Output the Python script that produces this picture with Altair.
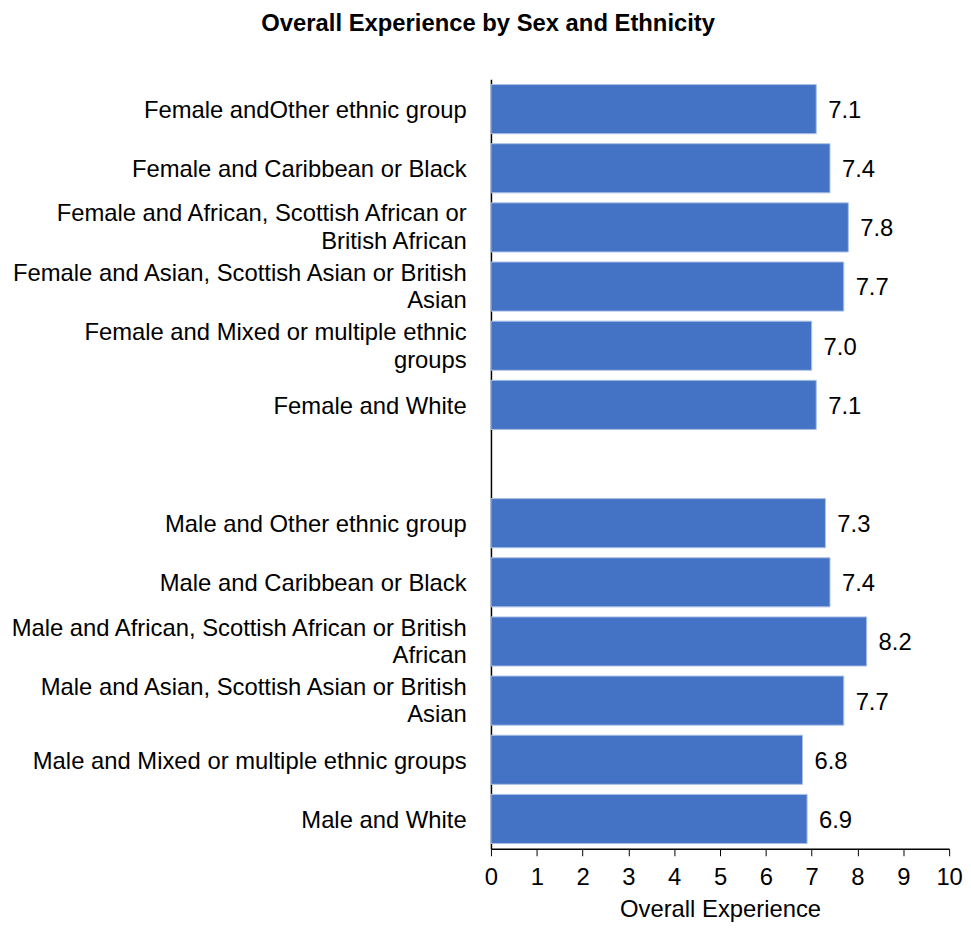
import altair as alt
import pandas as pd

# "|" marks where the long labels wrap onto a second line
groups = [
    "Female andOther ethnic group",
    "Female and Caribbean or Black",
    "Female and African, Scottish African or|British African",
    "Female and Asian, Scottish Asian or British|Asian",
    "Female and Mixed or multiple ethnic|groups",
    "Female and White",
    "Male and Other ethnic group",
    "Male and Caribbean or Black",
    "Male and African, Scottish African or British|African",
    "Male and Asian, Scottish Asian or British|Asian",
    "Male and Mixed or multiple ethnic groups",
    "Male and White",
]
scores = [7.1, 7.4, 7.8, 7.7, 7.0, 7.1, 7.3, 7.4, 8.2, 7.7, 6.8, 6.9]

# empty slot between the female and male blocks
order = groups[:6] + [" "] + groups[6:]

source = pd.DataFrame({"group": groups, "score": scores})

FONT = "Liberation Sans"

y_enc = alt.Y(
    "group:N",
    sort=order,
    scale=alt.Scale(domain=order, paddingInner=0.17, paddingOuter=0.09),
    axis=alt.Axis(
        title=None,
        ticks=False,
        labelExpr="split(datum.label, '|')",
        labelOffset={"expr": "indexof(datum.label, '|') >= 0 ? -13 : 2"},
        labelFontSize=24,
        labelFont=FONT,
        labelColor="black",
        labelPadding=25,
        labelLineHeight=28,
        labelLimit=600,
        domainColor="black",
        domainWidth=1.5,
    ),
)

x_enc = alt.X(
    "score:Q",
    scale=alt.Scale(domain=[0, 10], nice=False),
    axis=alt.Axis(
        title="Overall Experience",
        values=list(range(0, 11)),
        format="d",
        grid=False,
        tickSize=7,
        tickColor="black",
        domainColor="black",
        domainWidth=1.5,
        labelFontSize=24,
        labelFont=FONT,
        labelColor="black",
        labelFlush=False,
        labelPadding=10,
        titleFontSize=24,
        titleFont=FONT,
        titleFontWeight="normal",
        titleColor="black",
        titlePadding=8,
    ),
)

bars = alt.Chart(source).mark_bar(
    color="#4472C4", stroke="#a9bfe8", strokeWidth=1
).encode(x=x_enc, y=y_enc)

labels = alt.Chart(source).mark_text(
    align="left", baseline="middle", dx=12, dy=2, font=FONT, fontSize=24, color="black"
).encode(
    x="score:Q",
    y=alt.Y("group:N", sort=order),
    text=alt.Text("score:Q", format=".1f"),
)

chart = (
    (bars + labels)
    .properties(
        width=462,
        height=776,
        padding=0,
        title=alt.TitleParams(
            "Overall Experience by Sex and Ethnicity",
            font=FONT,
            fontSize=24,
            fontWeight="bold",
            color="black",
            anchor="start",
            frame="bounds",
            dx=255,
            offset=44,
        ),
    )
    .configure_view(strokeWidth=0)
)

chart.save("out.html", embed_options={"renderer": "svg", "actions": False})
